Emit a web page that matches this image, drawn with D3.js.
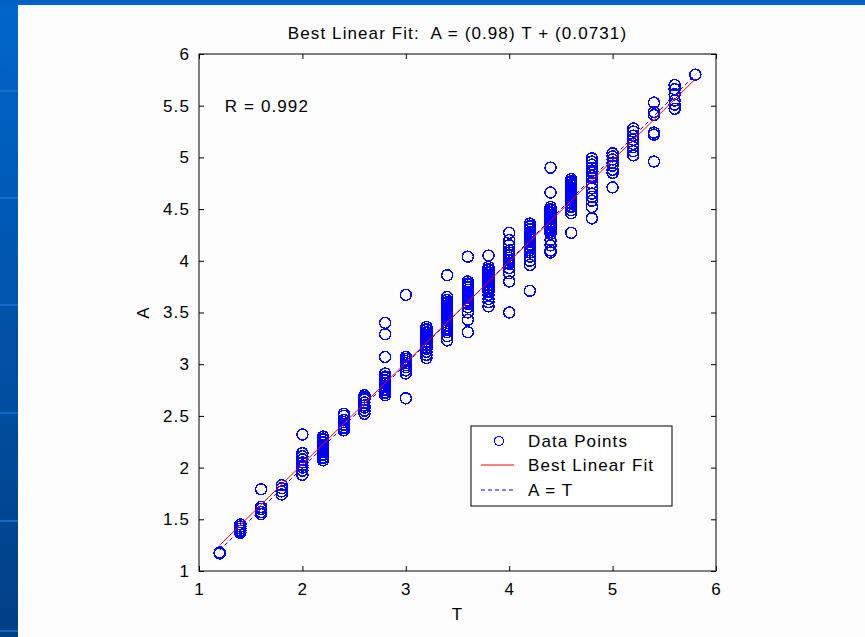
<!DOCTYPE html>
<html>
<head>
<meta charset="utf-8">
<script src="https://cdn.jsdelivr.net/npm/d3@7"></script>
<style>
  body { margin: 0; padding: 0; overflow: hidden; }
  svg text { font-family: "Liberation Sans", Arial, sans-serif; fill: #000; letter-spacing: 1.1px; }
</style>
</head>
<body>
<div id="chart"></div>
<script>
// data: targets T and outputs A
var targets = [1.2, 1.4, 1.6, 1.8, 2.0, 2.2, 2.4, 2.6, 2.8, 3.0, 3.2, 3.4, 3.6, 3.8, 4.0, 4.2, 4.4, 4.6, 4.8, 5.0, 5.2, 5.4, 5.6, 5.8];
var outputs = [
    [1.17, 1.18],
    [1.37, 1.39, 1.41, 1.43, 1.45],
    [1.79, 1.62, 1.60, 1.57, 1.55],
    [1.74, 1.77, 1.80, 1.83],
    [2.32, 2.14, 2.11, 2.08, 2.05, 2.02, 2.00, 1.97, 1.93],
    [2.07, 2.09, 2.10, 2.12, 2.13, 2.15, 2.16, 2.18, 2.19, 2.21, 2.22, 2.24, 2.25, 2.27, 2.28, 2.30],
    [2.36, 2.38, 2.39, 2.41, 2.42, 2.44, 2.46, 2.50, 2.52],
    [2.52, 2.55, 2.58, 2.60, 2.63, 2.66, 2.68, 2.70],
    [3.40, 3.29, 3.07, 2.91, 2.88, 2.87, 2.85, 2.84, 2.82, 2.81, 2.79, 2.78, 2.76, 2.75, 2.73, 2.72, 2.70],
    [3.67, 3.07, 3.05, 3.03, 3.01, 2.99, 2.97, 2.94, 2.91, 2.67],
    [3.36, 3.34, 3.33, 3.31, 3.30, 3.28, 3.27, 3.25, 3.24, 3.22, 3.21, 3.19, 3.18, 3.16, 3.15, 3.12, 3.09, 3.06],
    [3.86, 3.65, 3.62, 3.60, 3.59, 3.57, 3.56, 3.54, 3.52, 3.51, 3.49, 3.48, 3.46, 3.45, 3.43, 3.42, 3.40, 3.38, 3.37, 3.35, 3.33, 3.31, 3.27, 3.23],
    [4.04, 3.80, 3.78, 3.77, 3.75, 3.74, 3.72, 3.70, 3.69, 3.67, 3.66, 3.64, 3.62, 3.61, 3.59, 3.58, 3.55, 3.50, 3.43, 3.31],
    [4.05, 3.94, 3.92, 3.91, 3.89, 3.88, 3.86, 3.85, 3.83, 3.82, 3.80, 3.79, 3.77, 3.76, 3.74, 3.73, 3.71, 3.70, 3.67, 3.63, 3.60, 3.56],
    [4.27, 4.20, 4.15, 4.10, 4.08, 4.06, 4.05, 4.03, 4.01, 4.00, 3.98, 3.97, 3.93, 3.88, 3.80, 3.50],
    [4.36, 4.34, 4.33, 4.31, 4.30, 4.28, 4.27, 4.25, 4.24, 4.22, 4.21, 4.19, 4.18, 4.16, 4.15, 4.13, 4.12, 4.10, 4.08, 4.04, 4.00, 3.96, 3.71],
    [4.90, 4.66, 4.52, 4.50, 4.49, 4.47, 4.46, 4.44, 4.43, 4.41, 4.40, 4.38, 4.37, 4.35, 4.34, 4.32, 4.30, 4.28, 4.26, 4.20, 4.15, 4.10, 4.08],
    [4.79, 4.77, 4.76, 4.74, 4.73, 4.71, 4.70, 4.68, 4.67, 4.65, 4.64, 4.62, 4.61, 4.59, 4.58, 4.56, 4.55, 4.53, 4.52, 4.49, 4.46, 4.27],
    [4.99, 4.96, 4.93, 4.90, 4.87, 4.85, 4.82, 4.80, 4.75, 4.70, 4.65, 4.62, 4.58, 4.52, 4.41],
    [5.04, 5.01, 4.98, 4.95, 4.92, 4.88, 4.85, 4.71],
    [5.28, 5.25, 5.21, 5.17, 5.13, 5.10, 5.06, 5.02],
    [5.53, 5.44, 5.41, 5.24, 5.22, 4.96],
    [5.70, 5.66, 5.61, 5.55, 5.51, 5.47],
    [5.80]
];
var slope = 0.98;
var intercept = 0.0731;
var rValue = 0.992;
var xTicks = [1, 2, 3, 4, 5, 6];
var yTicks = [1, 1.5, 2, 2.5, 3, 3.5, 4, 4.5, 5, 5.5, 6];
var legendLabels = ["Data Points", "Best Linear Fit", "A = T"];

var points = [];
targets.forEach(function(t, i) {
    outputs[i].forEach(function(a) { points.push({t: t, a: a}); });
});

var W = 865, H = 637;
var plot = {left: 199, top: 54, right: 716, bottom: 571};
var fontSize = 17;

var svg = d3.select("#chart").append("svg")
    .attr("width", W)
    .attr("height", H);

// slide background
var defs = svg.append("defs");
var grad = defs.append("linearGradient")
    .attr("id", "sideGrad")
    .attr("x1", 0).attr("y1", 0).attr("x2", 0).attr("y2", 1);
grad.append("stop").attr("offset", "0%").attr("stop-color", "#0066cc");
grad.append("stop").attr("offset", "100%").attr("stop-color", "#003f85");

svg.append("rect").attr("width", W).attr("height", H).attr("fill", "url(#sideGrad)");
svg.append("rect").attr("width", W).attr("height", 5).attr("fill", "#0062c4");
[90, 197, 304, 412, 520, 630].forEach(function(y) {
    svg.append("rect").attr("x", 0).attr("y", y).attr("width", 18).attr("height", 2)
        .attr("fill", "#1a70d0").attr("opacity", 0.8);
});
svg.append("rect").attr("x", 18).attr("y", 5).attr("width", W - 18).attr("height", H - 5)
    .attr("fill", "#fdfdfd");

var x = d3.scaleLinear().domain([1, 6]).range([plot.left, plot.right]);
var y = d3.scaleLinear().domain([1, 6]).range([plot.bottom, plot.top]);

var g = svg.append("g");

// box
g.append("rect")
    .attr("x", plot.left).attr("y", plot.top)
    .attr("width", plot.right - plot.left).attr("height", plot.bottom - plot.top)
    .attr("fill", "none").attr("stroke", "#000").attr("stroke-width", 1);

// axes with inward ticks
var tickLen = 5;
var xBottom = g.append("g").attr("transform", "translate(0," + plot.bottom + ")")
    .call(d3.axisBottom(x).tickValues(xTicks).tickSizeInner(-tickLen).tickSizeOuter(0).tickPadding(10).tickFormat(d3.format("d")));
var xTop = g.append("g").attr("transform", "translate(0," + plot.top + ")")
    .call(d3.axisTop(x).tickValues(xTicks).tickSizeInner(-tickLen).tickSizeOuter(0).tickFormat(""));
var yLeft = g.append("g").attr("transform", "translate(" + plot.left + ",0)")
    .call(d3.axisLeft(y).tickValues(yTicks).tickSizeInner(-tickLen).tickSizeOuter(0).tickPadding(9).tickFormat(function(d) { return String(d); }));
var yRight = g.append("g").attr("transform", "translate(" + plot.right + ",0)")
    .call(d3.axisRight(y).tickValues(yTicks).tickSizeInner(-tickLen).tickSizeOuter(0).tickFormat(""));

[xBottom, xTop, yLeft, yRight].forEach(function(ax) {
    ax.select(".domain").remove();
    ax.selectAll("line").attr("stroke", "#000");
    ax.selectAll("text").attr("font-size", fontSize).attr("font-family", "Liberation Sans, Arial, sans-serif").attr("fill", "#000");
});
xBottom.selectAll("text").attr("dy", "0.85em");

// data points (aliased, like the original bitmap)
g.append("g").selectAll("circle")
    .data(points)
    .enter()
  .append("circle")
    .attr("cx", function(d) { return x(d.t); })
    .attr("cy", function(d) { return y(d.a); })
    .attr("r", 5.5)
    .attr("fill", "none")
    .attr("stroke", "#0000ff")
    .attr("stroke-width", 1.5)
    .attr("shape-rendering", "crispEdges");

var tExtent = d3.extent(targets);

// A = T line
g.append("line")
    .attr("x1", x(tExtent[0])).attr("y1", y(tExtent[0]))
    .attr("x2", x(tExtent[1])).attr("y2", y(tExtent[1]))
    .attr("stroke", "#0000ff").attr("stroke-width", 1).attr("stroke-dasharray", "4,3");

// best linear fit
g.append("line")
    .attr("x1", x(tExtent[0])).attr("y1", y(slope * tExtent[0] + intercept))
    .attr("x2", x(tExtent[1])).attr("y2", y(slope * tExtent[1] + intercept))
    .attr("stroke", "#ff0000").attr("stroke-width", 1);

// texts
svg.append("text")
    .attr("x", (plot.left + plot.right) / 2).attr("y", 39)
    .attr("text-anchor", "middle").attr("font-size", fontSize)
    .style("white-space", "pre")
    .text("Best Linear Fit:  A = (" + slope + ") T + (" + intercept + ")");

svg.append("text")
    .attr("x", x(1.25)).attr("y", y(5.5) + 6)
    .attr("font-size", fontSize)
    .text("R = " + rValue);

svg.append("text")
    .attr("x", (plot.left + plot.right) / 2).attr("y", 620)
    .attr("text-anchor", "middle").attr("font-size", fontSize)
    .text("T");

svg.append("text")
    .attr("transform", "translate(149," + (plot.top + plot.bottom) / 2 + ") rotate(-90)")
    .attr("text-anchor", "middle").attr("font-size", fontSize)
    .text("A");

// legend
var lg = svg.append("g").attr("transform", "translate(471,426)");
lg.append("rect").attr("width", 201).attr("height", 80)
    .attr("fill", "#fff").attr("stroke", "#000").attr("stroke-width", 1);
var rowY = [15, 39, 64];
lg.append("circle").attr("cx", 28).attr("cy", rowY[0]).attr("r", 4.5)
    .attr("fill", "none").attr("stroke", "#0000ff").attr("stroke-width", 1.4)
    .attr("shape-rendering", "crispEdges");
lg.append("line").attr("x1", 10).attr("x2", 43).attr("y1", rowY[1]).attr("y2", rowY[1])
    .attr("stroke", "#ff0000").attr("stroke-width", 1);
lg.append("line").attr("x1", 10).attr("x2", 42).attr("y1", rowY[2]).attr("y2", rowY[2])
    .attr("stroke", "#0000ff").attr("stroke-width", 1).attr("stroke-dasharray", "4,3");
lg.selectAll("text.lbl")
    .data(legendLabels)
    .enter()
  .append("text")
    .attr("class", "lbl")
    .attr("x", 57)
    .attr("y", function(d, i) { return rowY[i] + 6; })
    .attr("font-size", fontSize)
    .text(function(d) { return d; });
</script>
</body>
</html>
